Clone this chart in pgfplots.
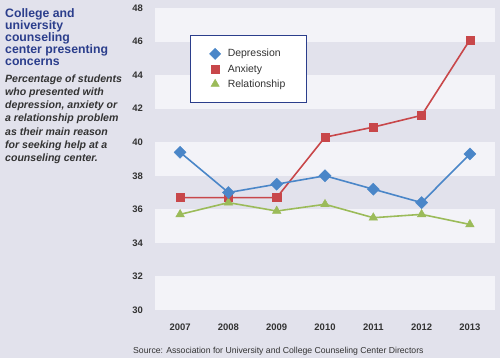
\documentclass[border=0pt]{standalone}
\usepackage{fontspec}
\setmainfont{Liberation Sans}
\usepackage{pgfplots}
\pgfplotsset{compat=1.18}
\definecolor{bg}{HTML}{E2E2EC}
\definecolor{band}{HTML}{F3F3F8}
\definecolor{navy}{HTML}{2B3E8C}
\definecolor{dep}{HTML}{4A86C8}
\definecolor{anx}{HTML}{C8474A}
\definecolor{rel}{HTML}{9BBB59}
\definecolor{txt}{HTML}{333333}
\begin{document}
\begin{tikzpicture}[x=1bp,y=1bp]
\fill[bg] (0,0) rectangle (500,358);
\begin{scope}[every node/.style={anchor=base west, inner sep=0pt}]
\node[text=navy, font=\bfseries\fontsize{12.3}{12}\selectfont] at (5,341) {College and};
\node[text=navy, font=\bfseries\fontsize{12.3}{12}\selectfont] at (5,328.8) {university};
\node[text=navy, font=\bfseries\fontsize{12.3}{12}\selectfont] at (5,316.6) {counseling};
\node[text=navy, font=\bfseries\fontsize{12.3}{12}\selectfont] at (5,304.4) {center presenting};
\node[text=navy, font=\bfseries\fontsize{12.3}{12}\selectfont] at (5,292.2) {concerns};
\node[text=txt, font=\bfseries\itshape\fontsize{10.6}{12}\selectfont] at (5,276) {Percentage of students};
\node[text=txt, font=\bfseries\itshape\fontsize{10.6}{12}\selectfont] at (5,262.7) {who presented with};
\node[text=txt, font=\bfseries\itshape\fontsize{10.6}{12}\selectfont] at (5,249.4) {depression, anxiety or};
\node[text=txt, font=\bfseries\itshape\fontsize{10.6}{12}\selectfont] at (5,236.1) {a relationship problem};
\node[text=txt, font=\bfseries\itshape\fontsize{10.6}{12}\selectfont] at (5,222.8) {as their main reason};
\node[text=txt, font=\bfseries\itshape\fontsize{10.6}{12}\selectfont] at (5,209.5) {for seeking help at a};
\node[text=txt, font=\bfseries\itshape\fontsize{10.6}{12}\selectfont] at (5,196.2) {counseling center.};
\node[text=txt, font=\fontsize{8.7}{10}\selectfont] at (133,5) {Source: Association for University and College Counseling Center Directors};
\end{scope}
\begin{axis}[
  at={(155bp,48bp)}, anchor=south west,
  scale only axis, width=340bp, height=302bp,
  xmin=2006.48, xmax=2013.52, ymin=30, ymax=48,
  xtick={2007,2008,2009,2010,2011,2012,2013},
  ytick={30,32,34,36,38,40,42,44,46,48},
  axis line style={draw=none},
  major tick length=0pt,
  tick style={draw=none},
  /pgf/number format/assume math mode=true,
  /pgf/number format/1000 sep={},
  ticklabel style={font=\bfseries\fontsize{9.5}{11}\selectfont, text=txt},
  xticklabel style={anchor=base, yshift=-20.5bp},
  yticklabel style={anchor=east, inner sep=0pt, xshift=-12bp},
  legend style={at={(0.103,0.911)}, anchor=north west, draw=navy, line width=1pt,
    fill=white, font=\fontsize{10.5}{12}\selectfont, text=txt,
    inner xsep=19bp, inner ysep=12bp, row sep=2bp, column sep=5bp, cells={anchor=west}},
]
\fill[band] (axis cs:2006.48,30) rectangle (axis cs:2013.52,32);
\fill[band] (axis cs:2006.48,34) rectangle (axis cs:2013.52,36);
\fill[band] (axis cs:2006.48,38) rectangle (axis cs:2013.52,40);
\fill[band] (axis cs:2006.48,42) rectangle (axis cs:2013.52,44);
\fill[band] (axis cs:2006.48,46) rectangle (axis cs:2013.52,48);

\addlegendimage{only marks, mark=square*, mark size=4pt, color=dep, line width=0.4pt, mark options={rotate=45}}
\addlegendentry{Depression}
\addlegendimage{only marks, mark=square*, mark size=3.8pt, color=anx, line width=0.4pt}
\addlegendentry{Anxiety}
\addlegendimage{only marks, mark=triangle*, mark size=4.8pt, color=rel, line width=0.4pt}
\addlegendentry{Relationship}

\addplot[anx, line width=1.6pt, mark=square*, mark size=4.1pt, mark options={line width=0.4pt}, forget plot]
  coordinates {(2007,36.7) (2008,36.7) (2009,36.7) (2010,40.3) (2011,40.9) (2012,41.6) (2013,46.1)};
\addplot[rel, line width=1.6pt, mark=triangle*, mark size=5pt, mark options={line width=0.4pt}, forget plot]
  coordinates {(2007,35.7) (2008,36.4) (2009,35.9) (2010,36.3) (2011,35.5) (2012,35.7) (2013,35.1)};
\addplot[dep, line width=1.6pt, mark=square*, mark size=4.3pt, mark options={rotate=45, line width=0.4pt}, forget plot]
  coordinates {(2007,39.4) (2008,37.0) (2009,37.5) (2010,38.0) (2011,37.2) (2012,36.4) (2013,39.3)};
\end{axis}
\end{tikzpicture}
\end{document}
